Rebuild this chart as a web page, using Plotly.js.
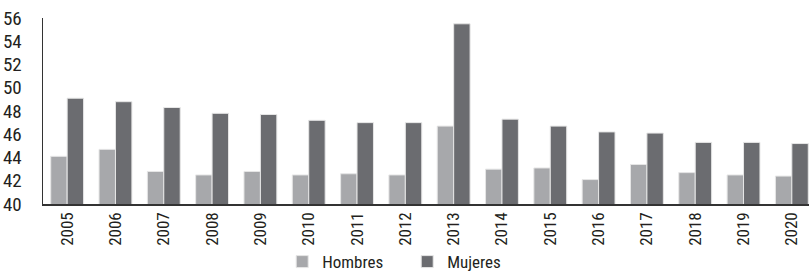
<!DOCTYPE html>
<html>
<head>
<meta charset="utf-8">
<script src="https://cdn.plot.ly/plotly-3.0.1.min.js"></script>
<style>
html,body{margin:0;padding:0;overflow:hidden;background:#fff;width:809px;height:271px;}
#chart{width:830px;height:271px;}
</style>
</head>
<body>
<div id="chart"></div>
<script>
const years = ["2005","2006","2007","2008","2009","2010","2011","2012","2013","2014","2015","2016","2017","2018","2019","2020"];
const hombres = [44.1,44.7,42.8,42.5,42.8,42.5,42.6,42.5,46.7,43.0,43.1,42.1,43.4,42.7,42.5,42.4];
const mujeres = [49.1,48.8,48.3,47.8,47.7,47.2,47.0,47.0,55.5,47.3,46.7,46.2,46.1,45.3,45.3,45.2];
const yTicks = [40,42,44,46,48,50,52,54,56];

const FONT = "'Roboto Condensed', 'DejaVu Sans Condensed', sans-serif";

const traces = [
  {type:'bar', name:'Hombres', x:years, y:hombres,
   marker:{color:'#a7a8ab', line:{color:'#e6e6e6', width:1}}},
  {type:'bar', name:'Mujeres', x:years, y:mujeres,
   marker:{color:'#6b6c70', line:{color:'#e6e6e6', width:1}}}
];

const layout = {
  width:830, height:271,
  margin:{l:43, r:14, t:18, b:67},
  paper_bgcolor:'#fff', plot_bgcolor:'#fff',
  font:{family:FONT, color:'#231f20', size:15},
  barmode:'group', bargap:0.32, bargroupgap:0,
  showlegend:true,
  legend:{orientation:'h', xref:'container', x:0.34, xanchor:'left',
          yref:'container', y:0.033, yanchor:'middle', bgcolor:'rgba(0,0,0,0)',
          font:{family:FONT, size:17, color:'#231f20'},
          itemwidth:30, traceorder:'normal', entrywidth:80},
  xaxis:{type:'category', tickangle:-90, showgrid:false, zeroline:false,
         showline:true, linecolor:'#333', linewidth:1.5, ticks:'',
         tickfont:{family:FONT, size:17, color:'#231f20'}, automargin:false},
  yaxis:{range:[40,56], tickvals:yTicks, ticktext:yTicks.map(String),
         showgrid:false, zeroline:false, showline:true, linecolor:'#333', linewidth:1.5,
         ticks:'', ticklabelstandoff:16,
         tickfont:{family:FONT, size:19, color:'#231f20'}, automargin:false}
};

Plotly.newPlot('chart', traces, layout, {displayModeBar:false, staticPlot:true});
</script>
</body>
</html>
